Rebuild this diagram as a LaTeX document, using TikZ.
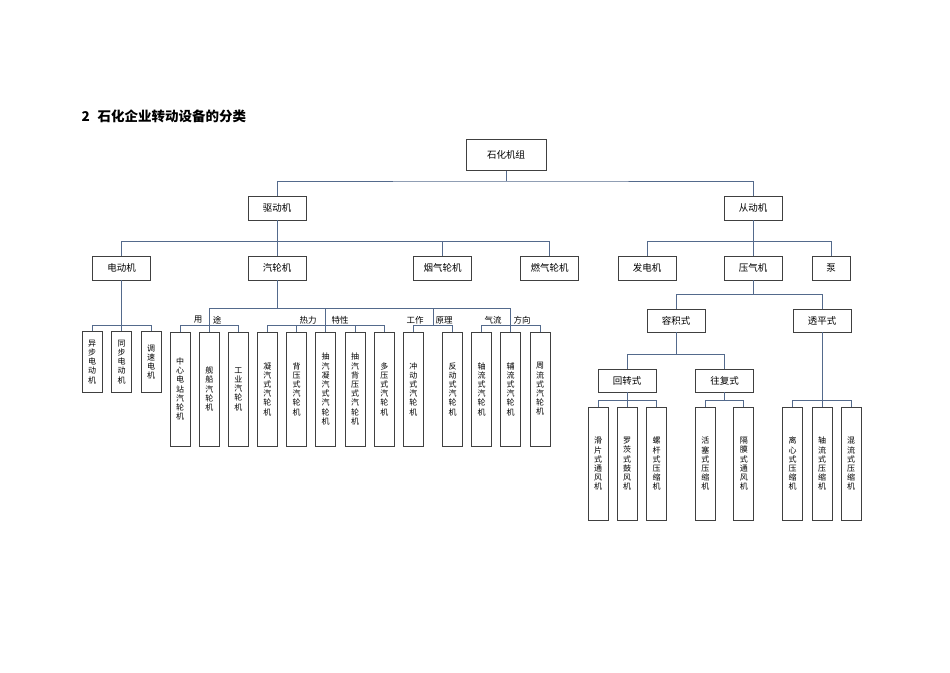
\documentclass[tikz,border=0pt]{standalone}
\usepackage{fontspec}
\newfontfamily\cjk{Noto Sans CJK SC}
\definecolor{linkblue}{RGB}{84,106,140}

\begin{document}
\begin{tikzpicture}[x=1pt,y=-1pt,
  box/.style={draw=black!75,line width=0.7pt,minimum width=58pt,minimum height=24pt,inner sep=0pt,font=\cjk\fontsize{9.5}{11}\selectfont},
  tallbox/.style={draw=black!75,line width=0.7pt,minimum width=20pt,minimum height=114pt,inner sep=0pt,anchor=north,align=center,font=\cjk\fontsize{8}{9.2}\selectfont},
  link/.style={draw=linkblue,line width=0.9pt},
  tag/.style={font=\cjk\fontsize{8.5}{10}\selectfont,inner sep=0pt}]
  \useasboundingbox (0,0) rectangle (950,672);

  \node[anchor=west,font=\cjk\bfseries\fontsize{13.5}{15}\selectfont] (title) at (78,116) {2\hspace{8pt}石化企业转动设备的分类};

  % upper levels
  \node[box,minimum width=80pt,minimum height=31pt] (root) at (506,155) {石化机组};
  \node[box] (drive) at (277,208) {驱动机};
  \node[box] (driven) at (753,208) {从动机};
  \node[box] (motor) at (121.5,268) {电动机};
  \node[box] (steam) at (277,268) {汽轮机};
  \node[box] (flue) at (442.5,268) {烟气轮机};
  \node[box] (gas) at (549.5,268) {燃气轮机};
  \node[box] (gen) at (647,268) {发电机};
  \node[box] (comp) at (753,268) {压气机};
  \node[box,minimum width=38pt] (pump) at (831,268) {泵};
  \node[box,minimum height=23pt] (vol) at (676,320.5) {容积式};
  \node[box,minimum height=23pt] (turbo) at (822,320.5) {透平式};
  \node[box,minimum height=23pt] (rot) at (627,380.5) {回转式};
  \node[box,minimum height=23pt] (recip) at (724.5,380.5) {往复式};

  % motors
  \node[tallbox,minimum height=61pt] (m1) at (92,331) {异\\步\\电\\动\\机};
  \node[tallbox,minimum height=61pt] (m2) at (121.5,331) {同\\步\\电\\动\\机};
  \node[tallbox,minimum height=61pt] (m3) at (151,331) {调\\速\\电\\机};

  % steam turbines
  \node[tallbox] (s1) at (180,331.7) {中\\心\\电\\站\\汽\\轮\\机};
  \node[tallbox] (s2) at (209.3,331.7) {舰\\船\\汽\\轮\\机};
  \node[tallbox] (s3) at (238.3,331.7) {工\\业\\汽\\轮\\机};
  \node[tallbox] (s4) at (267.3,331.7) {凝\\汽\\式\\汽\\轮\\机};
  \node[tallbox] (s5) at (296.7,331.7) {背\\压\\式\\汽\\轮\\机};
  \node[tallbox] (s6) at (325.7,331.7) {抽\\汽\\凝\\汽\\式\\汽\\轮\\机};
  \node[tallbox] (s7) at (355,331.7) {抽\\汽\\背\\压\\式\\汽\\轮\\机};
  \node[tallbox] (s8) at (384.3,331.7) {多\\压\\式\\汽\\轮\\机};
  \node[tallbox] (s9) at (413.3,331.7) {冲\\动\\式\\汽\\轮\\机};
  \node[tallbox] (s10) at (452.7,331.7) {反\\动\\式\\汽\\轮\\机};
  \node[tallbox] (s11) at (481.7,331.7) {轴\\流\\式\\汽\\轮\\机};
  \node[tallbox] (s12) at (510.7,331.7) {辅\\流\\式\\汽\\轮\\机};
  \node[tallbox] (s13) at (540,331.7) {周\\流\\式\\汽\\轮\\机};

  \node[tag] (use1) at (198,320) {用};
  \node[tag] (use2) at (217,320) {途};
  \node[tag] (therm1) at (308,320) {热力};
  \node[tag] (therm2) at (340,320) {特性};
  \node[tag] (work1) at (415,320) {工作};
  \node[tag] (work2) at (444,320) {原理};
  \node[tag] (flow1) at (493,320) {气流};
  \node[tag] (flow2) at (522,320) {方向};

  % compressors
  \node[tallbox,minimum height=113pt] (r1) at (598,407) {滑\\片\\式\\通\\风\\机};
  \node[tallbox,minimum height=113pt] (r2) at (627,407) {罗\\茨\\式\\鼓\\风\\机};
  \node[tallbox,minimum height=113pt] (r3) at (656.5,407) {螺\\杆\\式\\压\\缩\\机};
  \node[tallbox,minimum height=113pt] (p1) at (705.3,407) {活\\塞\\式\\压\\缩\\机};
  \node[tallbox,minimum height=113pt] (p2) at (743.8,407) {隔\\膜\\式\\通\\风\\机};
  \node[tallbox,minimum height=113pt] (t1) at (792.7,407) {离\\心\\式\\压\\缩\\机};
  \node[tallbox,minimum height=113pt] (t2) at (822,407) {轴\\流\\式\\压\\缩\\机};
  \node[tallbox,minimum height=113pt] (t3) at (851,407) {混\\流\\式\\压\\缩\\机};

  % bar levels
  \coordinate (bar0) at (0,181);
  \coordinate (bar1) at (0,241);
  \coordinate (bar2) at (0,308.7);
  \coordinate (bar3) at (0,325);
  \coordinate (bar5) at (0,294.3);
  \coordinate (bar6) at (0,354);
  \coordinate (bar7) at (0,400);
  \coordinate (work) at (433,325);

  \draw[link] (root.south) -- (root.south |- bar0);
  \draw[link] (drive.north) |- (bar0 -| root) -| (driven.north);

  \draw[link] (drive.south) -- (steam.north);
  \draw[link] (motor.north) |- (bar1 -| gas) -- (gas.north);
  \draw[link] (flue.north) -- (flue.north |- bar1);
  \draw[link] (driven.south) -- (comp.north);
  \draw[link] (gen.north) |- (bar1 -| pump) -- (pump.north);

  \draw[link] (motor.south) -- (m2.north);
  \draw[link] (m1.north) |- (bar3 -| m3) -- (m3.north);

  \draw[link] (steam.south) -- (steam.south |- bar2);
  \draw[link] (s2.north) |- (bar2 -| s12) -- (s12.north);
  \draw[link] (s1.north) |- (bar3 -| s3) -- (s3.north);
  \draw[link] (s6.north) -- (s6.north |- bar2);
  \draw[link] (s4.north) |- (bar3 -| s8) -- (s8.north);
  \draw[link] (s5.north) -- (s5.north |- bar3);
  \draw[link] (s7.north) -- (s7.north |- bar3);
  \draw[link] (work) -- (work |- bar2);
  \draw[link] (s9.north) |- (bar3 -| s10) -- (s10.north);
  \draw[link] (s11.north) |- (bar3 -| s13) -- (s13.north);

  \draw[link] (comp.south) -- (comp.south |- bar5);
  \draw[link] (vol.north) |- (bar5 -| turbo) -- (turbo.north);
  \draw[link] (vol.south) -- (vol.south |- bar6);
  \draw[link] (rot.north) |- (bar6 -| recip) -- (recip.north);
  \draw[link] (rot.south) -- (r2.north);
  \draw[link] (r1.north) |- (bar7 -| r3) -- (r3.north);
  \draw[link] (recip.south) -- (recip.south |- bar7);
  \draw[link] (p1.north) |- (bar7 -| p2) -- (p2.north);
  \draw[link] (turbo.south) -- (t2.north);
  \draw[link] (t1.north) |- (bar7 -| t3) -- (t3.north);
\end{tikzpicture}
\end{document}
